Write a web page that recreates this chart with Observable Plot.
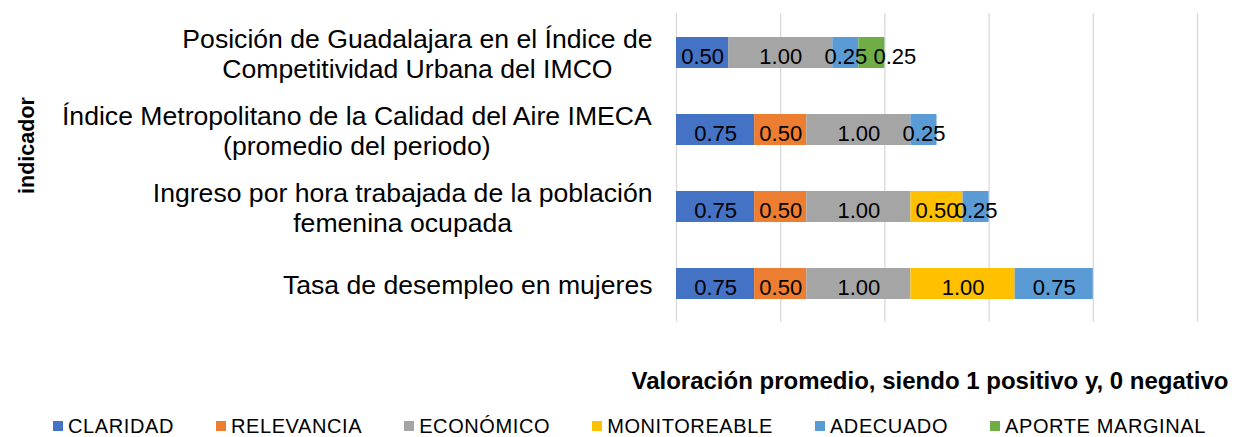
<!DOCTYPE html>
<html>
<head>
<meta charset="utf-8">
<script src="https://cdn.jsdelivr.net/npm/d3@7"></script>
<script src="https://cdn.jsdelivr.net/npm/@observablehq/plot@0.6"></script>
<style>
  html, body { margin: 0; padding: 0; background: #fff; }
  body { width: 1241px; height: 437px; overflow: hidden; font-family: 'Liberation Sans', Arial, sans-serif; }
  #legend { display: flex; align-items: center; gap: 42px; padding-left: 53px; margin-top: 16px; height: 20px; font-size: 20px; letter-spacing: 0.6px; color: #000; }
  #legend .item { display: flex; align-items: center; white-space: nowrap; }
  #legend .sw { width: 10px; height: 10px; margin-right: 5px; }
</style>
</head>
<body>
<div id="chart"></div>
<div id="legend"></div>
<script>
const categories = [
  "Posición de Guadalajara en el Índice de\nCompetitividad Urbana del IMCO",
  "Índice Metropolitano de la Calidad del Aire IMECA\n(promedio del periodo)",
  "Ingreso por hora trabajada de la población\nfemenina ocupada",
  "Tasa de desempleo en mujeres"
];
const series = ["CLARIDAD", "RELEVANCIA", "ECONÓMICO", "MONITOREABLE", "ADECUADO", "APORTE MARGINAL"];
const colors = ["#4472C4", "#ED7D31", "#A5A5A5", "#FFC000", "#5B9BD5", "#70AD47"];
const claridad     = [0.50, 0.75, 0.75, 0.75];
const relevancia   = [0.00, 0.50, 0.50, 0.50];
const economico    = [1.00, 1.00, 1.00, 1.00];
const monitoreable = [0.00, 0.00, 0.50, 1.00];
const adecuado     = [0.25, 0.25, 0.25, 0.75];
const aporte       = [0.25, 0.00, 0.00, 0.00];
const xTicks = [0, 1, 2, 3, 4, 5];
const xTitle = "Valoración promedio, siendo 1 positivo y, 0 negativo";
const yTitle = "indicador";

const valuesBySeries = [claridad, relevancia, economico, monitoreable, adecuado, aporte];
const data = [];
categories.forEach((cat, i) => {
  series.forEach((s, j) => data.push({cat, series: s, value: valuesBySeries[j][i]}));
});

// measure label widths to center the lines of each multi-line label
const yFont = 26.6;
const ctx = document.createElement("canvas").getContext("2d");
ctx.font = `${yFont}px 'Liberation Sans'`;
const widthOf = (s) => ctx.measureText(s).width;

const gap = 24;
const yLabelMarks = categories.map(cat => {
  const maxW = d3.max(cat.split("\n"), widthOf);
  return Plot.text([cat], {
    y: d => d, text: d => d,
    frameAnchor: "left", textAnchor: "middle", lineAnchor: "middle",
    dx: -(gap + maxW / 2), dy: 0,
    fontSize: yFont, lineHeight: 1.13, fill: "#000"
  });
});

const stackOpts = {x: "value", y: "cat", z: "series", order: series};

const plot = Plot.plot({
  width: 1241,
  height: 400,
  marginLeft: 676,
  marginRight: 44,
  marginTop: 13.3,
  marginBottom: 78.3,
  style: {fontFamily: "'Liberation Sans', Arial, sans-serif", background: "#fff", overflow: "visible"},
  x: {domain: [0, 5], axis: null},
  y: {domain: categories, axis: null, paddingInner: 0.6, paddingOuter: 0.3},
  color: {domain: series, range: colors},
  marks: [
    Plot.ruleX(xTicks, {stroke: "#D9D9D9", strokeWidth: 1.3}),
    Plot.barX(data, Plot.stackX({...stackOpts, fill: "series"})),
    Plot.text(data, Plot.filter(d => d.value > 0 && d.series !== "APORTE MARGINAL",
      Plot.stackX({...stackOpts, text: d => d.value.toFixed(2), fontSize: 22, dy: 4, fill: "#000"}))),
    Plot.text(data, Plot.filter(d => d.value > 0 && d.series === "APORTE MARGINAL",
      Plot.stackX({...stackOpts, text: d => d.value.toFixed(2), fontSize: 22, dx: 23, dy: 4, fill: "#000"}))),
    ...yLabelMarks,
    Plot.text([yTitle], {
      frameAnchor: "left", rotate: -90, lineAnchor: "bottom", textAnchor: "middle",
      dx: -643, dy: -22.5, fontSize: 21.5, fontWeight: "bold", fill: "#000"
    }),
    Plot.text([xTitle], {
      frameAnchor: "bottom-right", textAnchor: "end", lineAnchor: "middle",
      dx: 31, dy: 59, fontSize: 24, fontWeight: "bold", fill: "#000"
    })
  ]
});
document.getElementById("chart").appendChild(plot);

const legend = document.getElementById("legend");
series.forEach((s, i) => {
  const item = document.createElement("div");
  item.className = "item";
  const sw = document.createElement("span");
  sw.className = "sw";
  sw.style.background = colors[i];
  const label = document.createElement("span");
  label.textContent = s;
  item.appendChild(sw);
  item.appendChild(label);
  legend.appendChild(item);
});
</script>
</body>
</html>
